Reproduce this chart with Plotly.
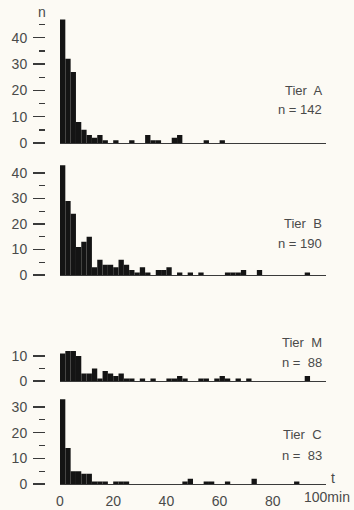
import plotly.graph_objects as go

# ---- data (counts per 2-minute bin, starting at t = 0) ----
BIN_WIDTH = 2
tier_a = [47, 32, 27, 8, 5, 3, 2, 3, 1, 0, 1, 0, 0, 1, 0, 0, 3, 1, 1, 0, 0, 2, 3, 0, 0, 0, 0, 1, 0, 0, 1]
tier_b = [43, 29, 24, 11, 13, 15, 3, 6, 4, 4, 3, 6, 4, 2, 1, 3, 1, 0, 2, 2, 3, 0, 1, 0, 1, 0, 1, 0, 0, 0,
          0, 1, 1, 1, 2, 0, 0, 2, 0, 0, 0, 0, 0, 0, 0, 0, 1]
tier_m = [11, 12, 12, 10, 3, 3, 5, 1, 4, 3, 2, 3, 1, 1, 0, 1, 0, 1, 0, 0, 1, 1, 2, 1, 0, 0, 1, 1, 0, 1,
          2, 1, 0, 1, 0, 1, 0, 0, 0, 0, 0, 0, 0, 0, 0, 0, 2]
tier_c = [33, 14, 5, 5, 4, 4, 1, 1, 1, 0, 1, 1, 1, 0, 0, 0, 0, 0, 0, 0, 0, 0, 0, 1, 2, 0, 0, 1, 1, 0,
          0, 1, 0, 0, 0, 0, 2, 0, 0, 0, 0, 0, 0, 0, 1]
tier_names = ["Tier  A", "Tier  B", "Tier  M", "Tier  C"]
tier_n_labels = ["n = 142", "n = 190", "n =  88", "n =  83"]
x_tick_vals = [0, 20, 40, 60, 80]
x_tick_text = ["0", "20", "40", "60", "80"]
x_last_label = "100min"
y_major = [[0, 10, 20, 30, 40], [0, 10, 20, 30, 40], [0, 10], [0, 10, 20, 30]]

series = [tier_a, tier_b, tier_m, tier_c]

# ---- layout geometry (page pixels; body margin removed below) ----
W, H = 354, 510
PLOT_L, PLOT_R, PLOT_T, PLOT_B = 45, 326, 4, 484
ML, MR, MT, MB = PLOT_L, W - PLOT_R, PLOT_T, H - PLOT_B
PW = PLOT_R - PLOT_L
PH = PLOT_B - PLOT_T
X0_PX = 60
# baseline pixel, px per unit, y max
panels = [(143, 2.63, 48), (275, 2.55, 44), (381, 2.5, 13), (484, 2.57, 34)]

def py(p):
    return (PLOT_B - p) / PH

def px(p):
    return (p - PLOT_L) / PW

BG = "#fcfaf4"
INK = "#4a4a4a"
FAM = "Liberation Sans, Arial, sans-serif"

fig = go.Figure()
layout = dict(
    width=W, height=H, paper_bgcolor=BG, plot_bgcolor=BG,
    margin=dict(l=ML, r=MR, t=MT, b=MB, pad=0), showlegend=False,
    font=dict(family=FAM, size=13, color=INK),
)

for i, counts in enumerate(series):
    k = "" if i == 0 else str(i + 1)
    xs = [BIN_WIDTH * j + BIN_WIDTH / 2 for j in range(len(counts))]
    fig.add_trace(go.Bar(
        x=xs, y=counts, width=BIN_WIDTH,
        marker=dict(color="#141414", line=dict(width=0)),
        xaxis="x" + k, yaxis="y" + k, hoverinfo="skip",
    ))
    p0, scale, ymax = panels[i]
    ptop = p0 - ymax * scale
    bottom = (i == len(series) - 1)
    layout["xaxis" + k] = dict(
        domain=[px(X0_PX), 1], range=[0, 100], anchor="y" + k,
        showline=True, linecolor="#3a3a3a", linewidth=1.2,
        showgrid=False, zeroline=False, ticks="",
        tickvals=x_tick_vals, ticktext=x_tick_text,
        showticklabels=bottom, ticklabelstandoff=4,
        tickfont=dict(family=FAM, size=14, color=INK),
        automargin=False, fixedrange=True,
    )
    layout["yaxis" + k] = dict(
        domain=[py(p0), py(ptop)], range=[0, ymax], anchor="free", position=0,
        showline=False, showgrid=False, zeroline=False,
        ticks="outside", ticklen=12, tickwidth=1.3, tickcolor="#3a3a3a",
        tickvals=y_major[i], ticklabelstandoff=3,
        tickfont=dict(family=FAM, size=14, color=INK),
        minor=dict(ticks="outside", tick0=0, dtick=5, ticklen=6, tickwidth=1.3,
                   tickcolor="#3a3a3a", showgrid=False),
        automargin=False, fixedrange=True,
    )

fig.update_layout(**layout)

ann = []
label_y = [(90, 109), (223, 243), (342, 362), (434, 455)]
for i in range(4):
    for txt, yy in zip((tier_names[i], tier_n_labels[i]), label_y[i]):
        ann.append(dict(text=txt, x=px(324), y=py(yy), xref="paper", yref="paper",
                        xanchor="right", yanchor="middle", showarrow=False,
                        font=dict(family=FAM, size=13, color=INK)))
ann.append(dict(text="n", x=px(42), y=py(12), xref="paper", yref="paper",
                xanchor="center", yanchor="middle", showarrow=False,
                font=dict(family=FAM, size=14, color=INK)))
ann.append(dict(text="t", x=px(333), y=py(478), xref="paper", yref="paper",
                xanchor="center", yanchor="middle", showarrow=False,
                font=dict(family=FAM, size=14, color=INK)))
ann.append(dict(text=x_last_label, x=px(352), y=py(497), xref="paper", yref="paper",
                xanchor="right", yanchor="middle", showarrow=False,
                font=dict(family=FAM, size=14, color=INK)))
fig.update_layout(annotations=ann)

fig.write_html(
    "out.html",
    config={"displayModeBar": False, "staticPlot": True},
    post_script="document.body.style.margin='0';document.body.style.overflow='hidden';",
)
